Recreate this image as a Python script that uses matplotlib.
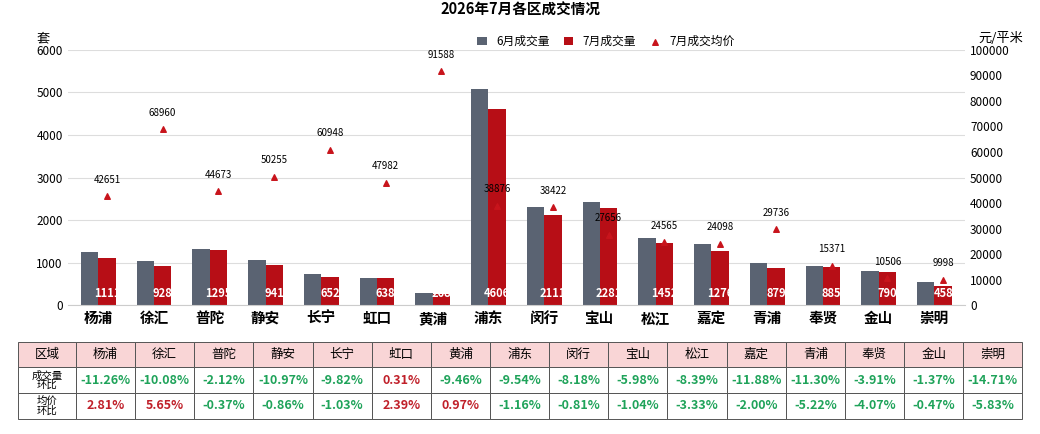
import numpy as np
import matplotlib.pyplot as plt

plt.rcParams['font.family'] = ['Noto Sans CJK SC', 'DejaVu Sans']

districts = ['杨浦', '徐汇', '普陀', '静安', '长宁', '虹口', '黄浦', '浦东',
             '闵行', '宝山', '松江', '嘉定', '青浦', '奉贤', '金山', '崇明']
june = [1252, 1032, 1323, 1057, 723, 636, 296, 5092, 2299, 2426, 1585, 1448, 991, 921, 801, 537]
july = [1111, 928, 1295, 941, 652, 638, 268, 4606, 2111, 2281, 1452, 1276, 879, 885, 790, 458]
price = [42651, 68960, 44673, 50255, 60948, 47982, 91588, 38876, 38422, 27656,
         24565, 24098, 29736, 15371, 10506, 9998]
vol_chg = ['-11.26%', '-10.08%', '-2.12%', '-10.97%', '-9.82%', '0.31%', '-9.46%', '-9.54%',
           '-8.18%', '-5.98%', '-8.39%', '-11.88%', '-11.30%', '-3.91%', '-1.37%', '-14.71%']
price_chg = ['2.81%', '5.65%', '-0.37%', '-0.86%', '-1.03%', '2.39%', '0.97%', '-1.16%',
             '-0.81%', '-1.04%', '-3.33%', '-2.00%', '-5.22%', '-4.07%', '-0.47%', '-5.83%']

fig = plt.figure(figsize=(10.4, 4.34), dpi=100)
ax = fig.add_axes([0.065, 0.297, 0.863, 0.588])
ax2 = ax.twinx()
x = np.arange(len(districts))
w = 0.31
ax.bar(x - w/2, june, w, color='#5a6372', label='6月成交量')
ax.bar(x + w/2, july, w, color='#b70e16', label='7月成交量')
for i, v in enumerate(july):
    ax.text(x[i] + w/2, 280, str(v), ha='center', va='center', color='white',
            fontsize=8, fontweight='bold')
ax2.scatter(x + w/2, price, marker='^', color='#c8141c', s=16, label='7月成交均价', zorder=5)
for i, p in enumerate(price):
    ax2.text(x[i] + w/2, p + 4500, str(p), ha='center', va='bottom', fontsize=7)

ax.set_ylim(0, 6000)
ax2.set_ylim(0, 100000)
ax.set_xlim(-0.55, len(districts) - 0.45)
ax.set_yticks(range(0, 6001, 1000))
ax2.set_yticks(range(0, 100001, 10000))
ax.grid(axis='y', color='#dddddd', lw=0.8)
ax.set_axisbelow(True)
for a in (ax, ax2):
    for s in a.spines.values():
        s.set_visible(False)
    a.tick_params(length=0, labelsize=8.5)
ax.spines['bottom'].set_visible(True)
ax.spines['bottom'].set_color('#cccccc')
ax.set_xticks(x)
ax.set_xticklabels(districts, fontsize=10.5, fontweight='bold')
ax.text(-0.02, 1.03, '套', transform=ax.transAxes, ha='right', fontsize=9.5)
ax2.text(1.04, 1.03, '元/平米', transform=ax.transAxes, ha='center', fontsize=9.5)
fig.suptitle('2026年7月各区成交情况', y=0.995, fontsize=10.5, fontweight='bold')
h1, l1 = ax.get_legend_handles_labels()
h2, l2 = ax2.get_legend_handles_labels()
ax.legend(h1 + h2, l1 + l2, loc='upper center', bbox_to_anchor=(0.6, 1.1), ncol=3,
          frameon=False, fontsize=8.5, handlelength=0.8, columnspacing=1.2)

# table
tax = fig.add_axes([0.017, 0.035, 0.966, 0.178])
tax.axis('off')
cells = [['区域'] + districts, ['成交量\n环比'] + vol_chg, ['均价\n环比'] + price_chg]
first_w = 0.058
col_w = (1 - first_w) / 16
tbl = tax.table(cellText=cells, cellLoc='center', bbox=[0, 0, 1, 1],
                colWidths=[first_w] + [col_w] * 16)
tbl.auto_set_font_size(False)
for (r, c), cell in tbl.get_celld().items():
    cell.set_edgecolor('#555555')
    cell.set_linewidth(0.7)
    t = cell.get_text()
    if r == 0:
        cell.set_facecolor('#f9d5d6')
        t.set_fontsize(9)
    elif c == 0:
        t.set_fontsize(7.5)
        t.set_linespacing(0.95)
    else:
        val = cells[r][c]
        t.set_color('#c0202a' if not val.startswith('-') else '#1fa35a')
        t.set_fontsize(9)
        t.set_fontweight('bold')
fig.savefig('out.png', dpi=100)
